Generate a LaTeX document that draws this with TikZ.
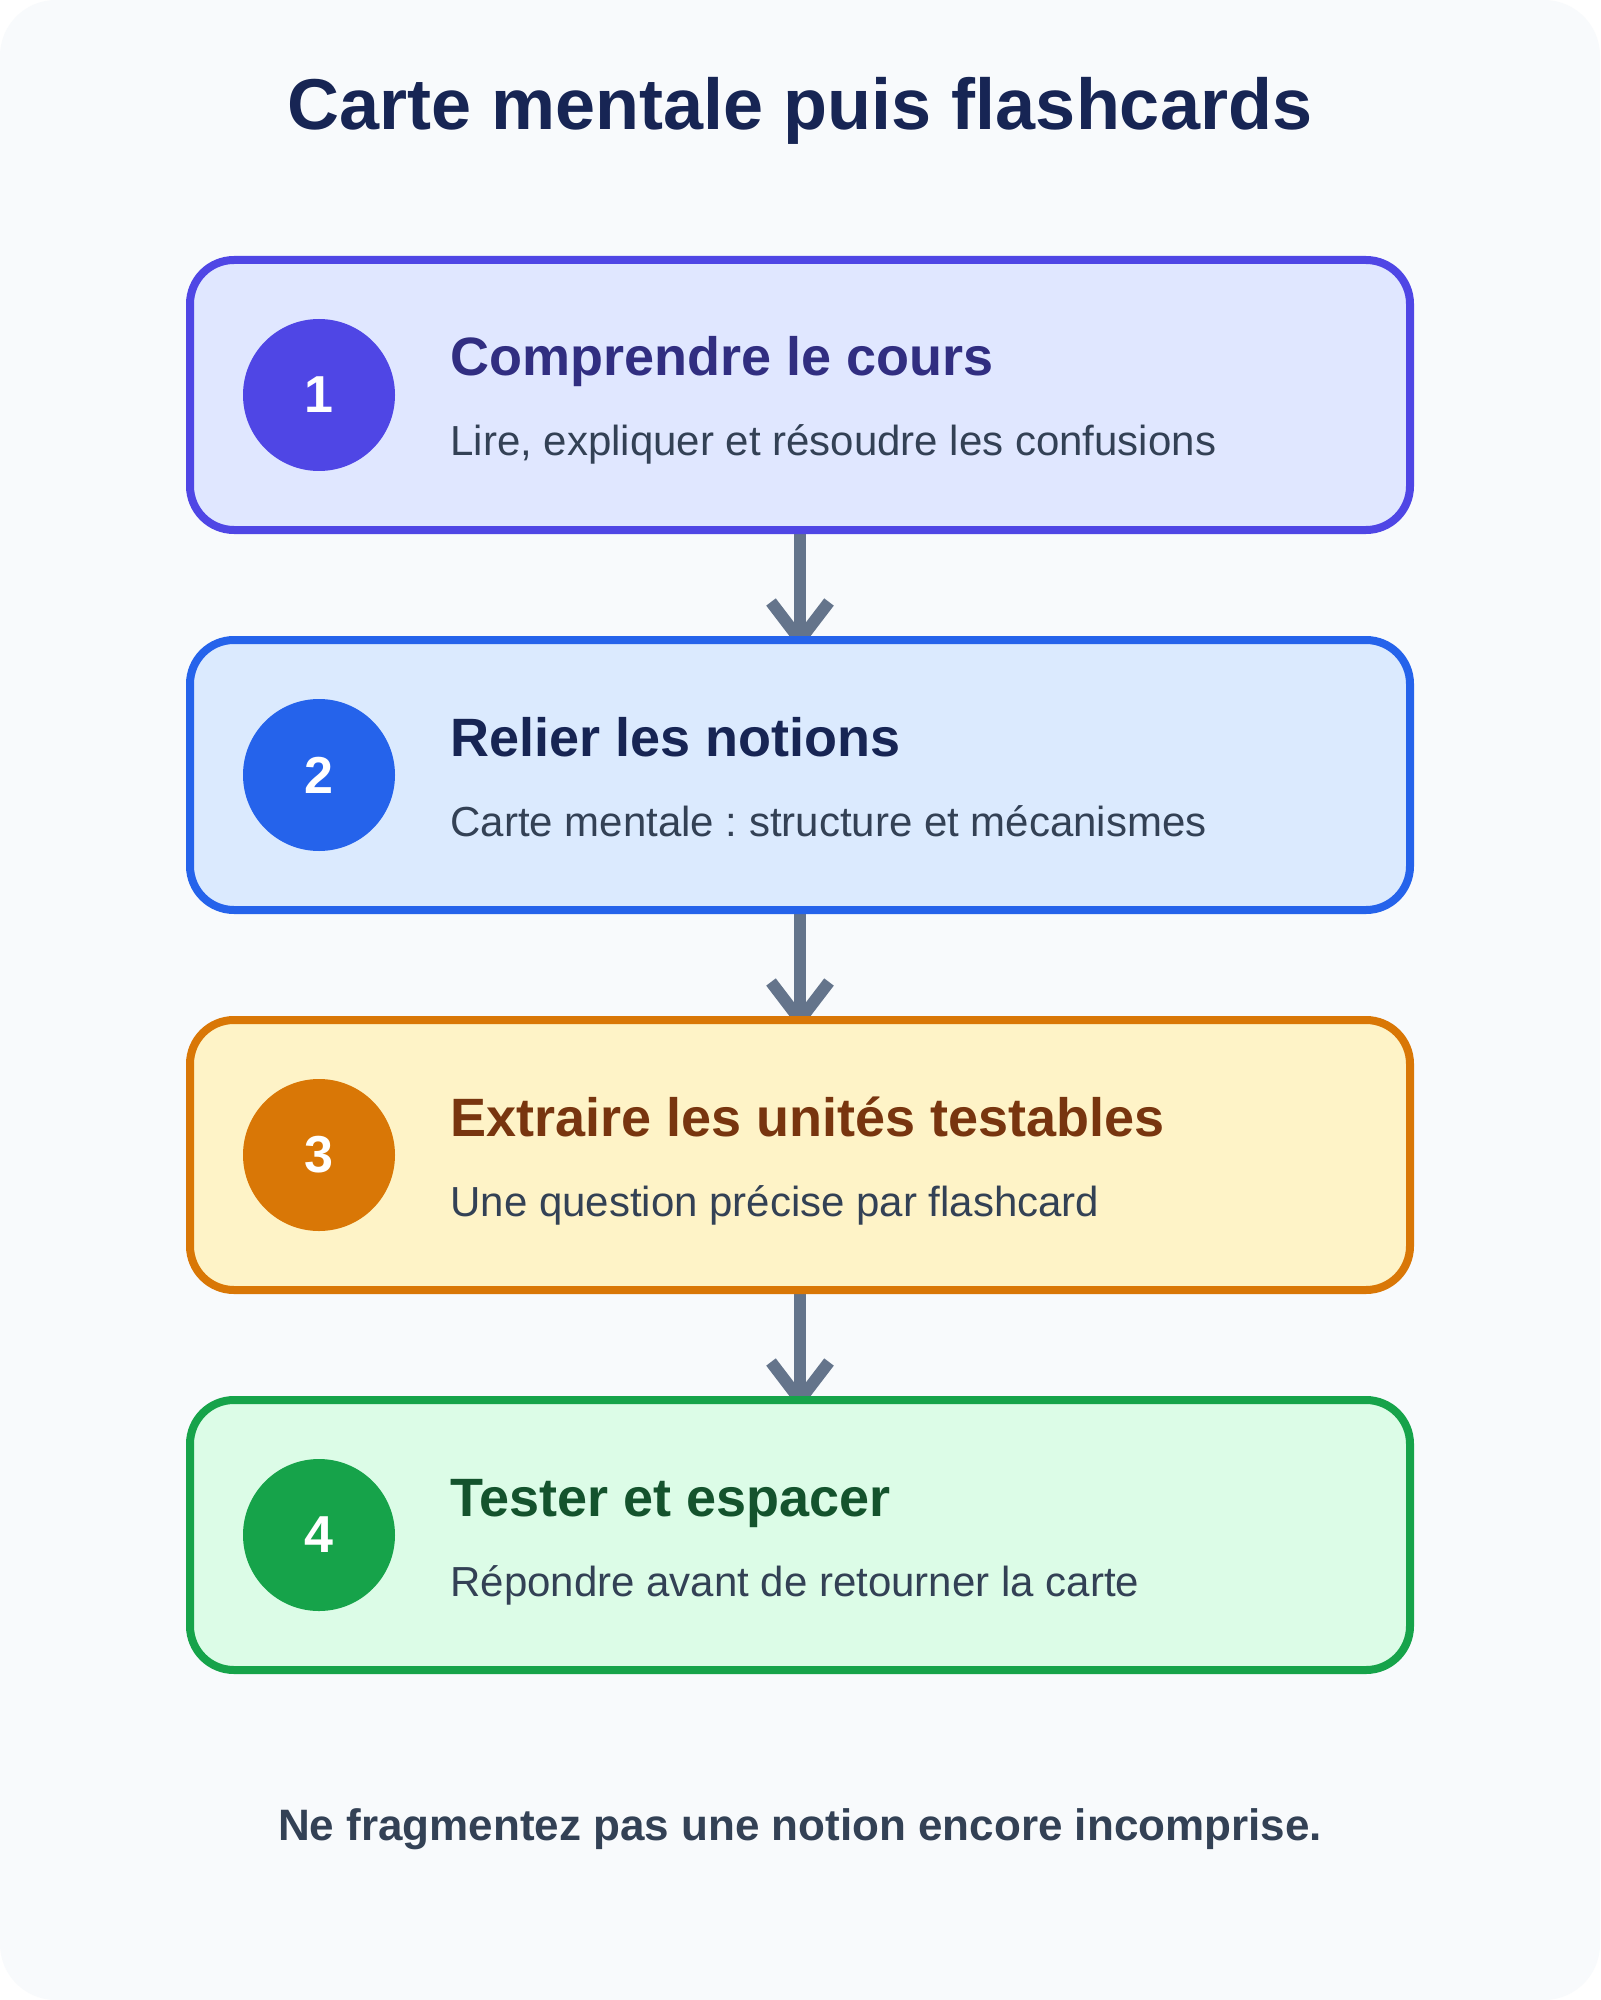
\documentclass[tikz,border=0pt]{standalone}
\usepackage{fontspec}
\setmainfont{Liberation Sans}
\frenchspacing
\pgfdeclarelayer{pagebg}
\pgfdeclarelayer{arrows}
\pgfsetlayers{pagebg,arrows,main}
\definecolor{pagec}{HTML}{F8FAFC}
\definecolor{titlec}{HTML}{172554}
\definecolor{subc}{HTML}{334155}
\definecolor{arrc}{HTML}{64748B}
\definecolor{fillA}{HTML}{E0E7FF}\definecolor{strokeA}{HTML}{4F46E5}\definecolor{textA}{HTML}{312E81}
\definecolor{fillB}{HTML}{DBEAFE}\definecolor{strokeB}{HTML}{2563EB}\definecolor{textB}{HTML}{172554}
\definecolor{fillC}{HTML}{FEF3C7}\definecolor{strokeC}{HTML}{D97706}\definecolor{textC}{HTML}{78350F}
\definecolor{fillD}{HTML}{DCFCE7}\definecolor{strokeD}{HTML}{16A34A}\definecolor{textD}{HTML}{14532D}
\tikzset{
  stepbox/.style={rectangle, rounded corners=22pt, line width=4pt, outer sep=0pt,
    minimum width=610pt, minimum height=135pt, inner sep=0pt},
  numdisc/.style={circle, minimum size=76pt, inner sep=0pt, outer sep=0pt, text=white,
    font=\bfseries\fontsize{26pt}{30pt}\selectfont},
  steptitle/.style={anchor=base west, inner sep=0pt, font=\bfseries\fontsize{27pt}{32pt}\selectfont},
  stepsub/.style={anchor=base west, inner sep=0pt, text=subc, font=\fontsize{21pt}{25pt}\selectfont},
  flowarrow/.style={draw=arrc, line width=6pt, line cap=butt},
}
\begin{document}
\begin{tikzpicture}[x=0.5pt, y=-0.5pt]
\begin{pgfonlayer}{pagebg}
  \fill[white] (0,0) rectangle (1600,2000);
  \fill[pagec, rounded corners=28pt] (0,0) rectangle (1600,2000);
\end{pgfonlayer}
\useasboundingbox (0,0) rectangle (1600,2000);

\node[anchor=base, inner sep=0pt, text=titlec, font=\bfseries\fontsize{36pt}{42pt}\selectfont]
  (title) at (800,130) {Carte mentale puis flashcards};

% step 1
\node[stepbox, draw=strokeA, fill=fillA] (b1) at (800,395) {};
\node[numdisc, fill=strokeA] (n1) at (319,395) {1};
\node[steptitle, text=textA] (t1) at (450,376) {Comprendre le cours};
\node[stepsub] (s1) at (450,456) {Lire, expliquer et résoudre les confusions};

% step 2
\node[stepbox, draw=strokeB, fill=fillB] (b2) at (800,775) {};
\node[numdisc, fill=strokeB] (n2) at (319,775) {2};
\node[steptitle, text=textB] (t2) at (450,756) {Relier les notions};
\node[stepsub] (s2) at (450,836) {Carte mentale : structure et mécanismes};

% step 3
\node[stepbox, draw=strokeC, fill=fillC] (b3) at (800,1155) {};
\node[numdisc, fill=strokeC] (n3) at (319,1155) {3};
\node[steptitle, text=textC] (t3) at (450,1136) {Extraire les unités testables};
\node[stepsub] (s3) at (450,1216) {Une question précise par flashcard};

% step 4
\node[stepbox, draw=strokeD, fill=fillD] (b4) at (800,1535) {};
\node[numdisc, fill=strokeD] (n4) at (319,1535) {4};
\node[steptitle, text=textD] (t4) at (450,1516) {Tester et espacer};
\node[stepsub] (s4) at (450,1596) {Répondre avant de retourner la carte};

\node[anchor=base, inner sep=0pt, text=subc, font=\bfseries\fontsize{22pt}{26pt}\selectfont]
  (foot) at (800,1840) {Ne fragmentez pas une notion encore incomprise.};

\begin{pgfonlayer}{arrows}
  \foreach \a/\b in {b1/b2, b2/b3, b3/b4}{
    \draw[flowarrow] (\a.south) -- (\b.north);
    \draw[flowarrow, line join=miter] (\b.north) ++(-29,-38) -- (\b.north) -- ++(29,-38);
  }
\end{pgfonlayer}
\end{tikzpicture}
\end{document}
